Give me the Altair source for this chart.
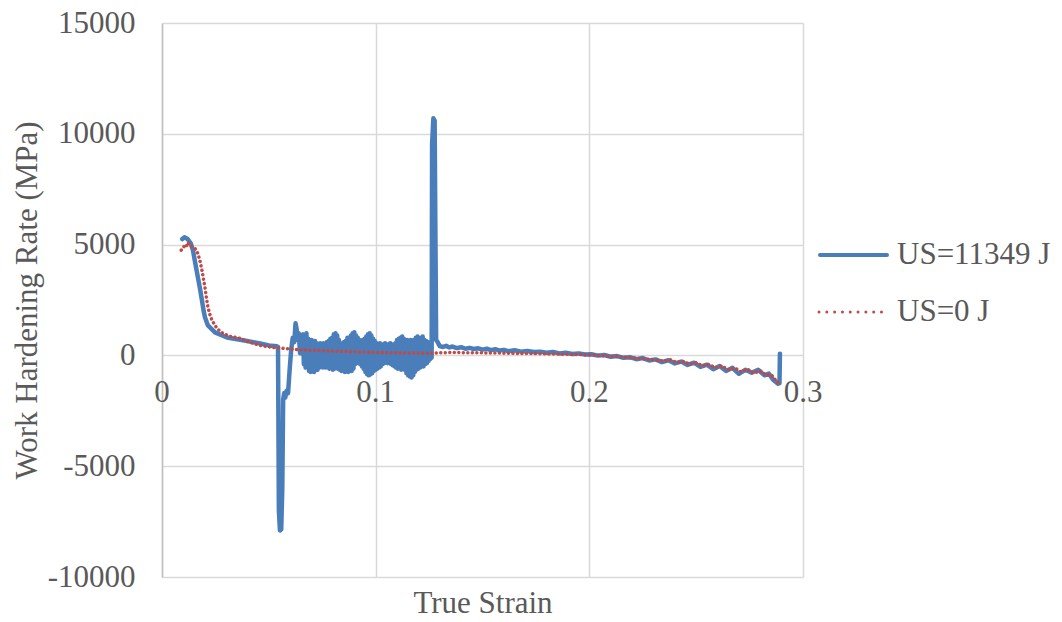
import altair as alt
import pandas as pd

# ---- data ----
series_names = ["US=11349 J", "US=0 J"]

blue_strain = [
    0.0095, 0.0105, 0.0120, 0.0135, 0.0145, 0.0155, 0.0168, 0.0178, 0.0187, 0.0195,
    0.0201, 0.0215, 0.0248, 0.0304, 0.0379, 0.0459, 0.0500, 0.0538,
    0.0543, 0.0547, 0.0552, 0.0558, 0.0563, 0.0567, 0.0572, 0.0577, 0.0583, 0.0590,
    0.0597, 0.0605, 0.0612, 0.0619, 0.0625, 0.0630, 0.0635, 0.0640, 0.0646, 0.0652,
    0.0660, 0.0664, 0.0668, 0.0672, 0.0676, 0.0680, 0.0684, 0.0688, 0.0692, 0.0696,
    0.0700, 0.0704, 0.0708, 0.0712, 0.0716, 0.0720, 0.0724, 0.0728, 0.0732, 0.0736,
    0.0740, 0.0744, 0.0748, 0.0752, 0.0756, 0.0760, 0.0764, 0.0768, 0.0772, 0.0776,
    0.0780, 0.0784, 0.0788, 0.0792, 0.0796, 0.0800, 0.0804, 0.0808, 0.0812, 0.0816,
    0.0820, 0.0824, 0.0828, 0.0832, 0.0836, 0.0840, 0.0844, 0.0848, 0.0852, 0.0856,
    0.0860, 0.0864, 0.0868, 0.0872, 0.0876, 0.0880, 0.0884, 0.0888, 0.0892, 0.0896,
    0.0900, 0.0904, 0.0908, 0.0912, 0.0916, 0.0920, 0.0924, 0.0928, 0.0932, 0.0936,
    0.0940, 0.0944, 0.0948, 0.0952, 0.0956, 0.0960, 0.0964, 0.0968, 0.0972, 0.0976,
    0.0980, 0.0984, 0.0988, 0.0992, 0.0996, 0.1000, 0.1004, 0.1008, 0.1012, 0.1016,
    0.1020, 0.1024, 0.1028, 0.1032, 0.1036, 0.1040, 0.1044, 0.1048, 0.1052, 0.1056,
    0.1060, 0.1064, 0.1068, 0.1072, 0.1076, 0.1080, 0.1084, 0.1088, 0.1092, 0.1096,
    0.1100, 0.1104, 0.1108, 0.1112, 0.1116, 0.1120, 0.1124, 0.1128, 0.1132, 0.1136,
    0.1140, 0.1144, 0.1148, 0.1152, 0.1156, 0.1160, 0.1164, 0.1168, 0.1172, 0.1176,
    0.1180, 0.1184, 0.1188, 0.1192, 0.1196, 0.1200, 0.1204, 0.1208, 0.1212, 0.1216,
    0.1220, 0.1224, 0.1228, 0.1232, 0.1236, 0.1240, 0.1244, 0.1248, 0.1252, 0.1256,
    0.1262, 0.1264, 0.1270, 0.1276, 0.1280, 0.1283,
    0.1290, 0.1300, 0.1315, 0.1330, 0.1345, 0.1360, 0.1380, 0.1400, 0.1420, 0.1440,
    0.1460, 0.1480, 0.1500, 0.1520, 0.1540, 0.1560, 0.1580, 0.1600, 0.1620, 0.1650,
    0.1680, 0.1710, 0.1740, 0.1770, 0.1800, 0.1830, 0.1860, 0.1890, 0.1920, 0.1950,
    0.1980, 0.2010, 0.2040, 0.2070, 0.2100, 0.2130, 0.2160, 0.2190, 0.2220, 0.2250,
    0.2280, 0.2310, 0.2340, 0.2370, 0.2400, 0.2430, 0.2460, 0.2490, 0.2520, 0.2550,
    0.2580, 0.2610, 0.2640, 0.2670, 0.2700, 0.2730, 0.2760, 0.2790, 0.2820, 0.2840,
    0.2860, 0.2883, 0.2890, 0.2892,
]
blue_rate = [
    5250, 5330, 5250, 5050, 4740, 4200, 3520, 3000, 2480, 2000,
    1720, 1350, 1040, 810, 680, 540, 450, 410,
    380, -7000, -7900, -7850, -6000, -2000, -1700, -1900, -1600, -1700,
    -700, 300, 800, 600, 1450, 1200, 700, 1000, 100, 600,
    950, -400, 800, -550, 1000, -500, 750, -700, 650, -750,
    700, -650, 600, -750, 650, -600, 550, -650, 500, -550,
    550, -500, 450, -550, 550, -450, 500, -550, 600, -500,
    650, -600, 750, -550, 800, -650, 950, -600, 1000, -500,
    900, -600, 700, -650, 550, -700, 500, -650, 600, -750,
    650, -700, 800, -750, 700, -650, 900, -700, 1000, -600,
    1050, -400, 900, -350, 800, -300, 700, -400, 650, -500,
    700, -600, 750, -750, 850, -850, 950, -900, 1000, -850,
    900, -800, 750, -700, 650, -650, 550, -600, 500, -550,
    550, -500, 500, -400, 450, -350, 550, -300, 500, -350,
    450, -300, 550, -400, 500, -450, 450, -500, 550, -550,
    700, -600, 750, -550, 800, -650, 850, -600, 750, -650,
    650, -800, 700, -900, 600, -950, 700, -1000, 650, -900,
    700, -750, 800, -650, 850, -600, 750, -550, 800, -500,
    850, -500, 700, -400, 650, -350, 600, -250, 550, -150,
    -100, 9500, 10700, 10600, 5000, 700,
    600, 420, 380, 430, 360, 400, 330, 370, 300, 340,
    290, 320, 260, 300, 240, 280, 220, 250, 190, 230,
    170, 200, 150, 170, 120, 150, 90, 120, 60, 90,
    40, 50, -10, 20, -60, -30, -110, -80, -170, -120,
    -230, -180, -300, -220, -360, -280, -430, -330, -520, -420,
    -620, -480, -700, -560, -830, -650, -780, -650, -900, -820,
    -1100, -1280, -1250, 80,
]

red_strain = [
    0.0090, 0.0098, 0.0105, 0.0113, 0.0122, 0.0130, 0.0140, 0.0154, 0.0168, 0.0178,
    0.0187, 0.0194, 0.0201, 0.0208, 0.0215, 0.0224, 0.0234, 0.0257, 0.0285, 0.0318,
    0.0365, 0.0412, 0.0459, 0.0519, 0.0566, 0.0650, 0.0750, 0.0850, 0.0950, 0.1050,
    0.1150, 0.1250, 0.1350, 0.1450, 0.1550, 0.1650, 0.1750, 0.1850, 0.1950, 0.2050,
    0.2150, 0.2250, 0.2300, 0.2350, 0.2380, 0.2410, 0.2440, 0.2470, 0.2500, 0.2530,
    0.2560, 0.2590, 0.2620, 0.2650, 0.2680, 0.2710, 0.2740, 0.2770, 0.2800, 0.2830,
    0.2850, 0.2870, 0.2885,
]
red_rate = [
    4750, 4830, 4950, 4900, 5100, 4950, 4900, 4830, 4600, 4250,
    3840, 3450, 3070, 2600, 2170, 1850, 1580, 1220, 990, 860,
    770, 590, 450, 360, 320, 250, 210, 180, 150, 120,
    110, 100, 130, 120, 110, 90, 80, 60, 40, 0,
    -70, -150, -200, -260, -200, -330, -270, -400, -330, -480,
    -400, -570, -470, -650, -560, -740, -620, -800, -700, -900,
    -850, -1100, -1250,
]

x_ticks = [0, 0.1, 0.2, 0.3]
x_tick_labels = ["0", "0.1", "0.2", "0.3"]
y_ticks = [-10000, -5000, 0, 5000, 10000, 15000]

# ---- styling ----
FONT = "Liberation Serif"
TXT = "#595959"
GRID = "#d9d9d9"
BLUE = "#4A7EBB"
RED = "#BE4B48"
FS = 31

blue_df = pd.DataFrame({"strain": blue_strain, "rate": blue_rate, "series": series_names[0]})
red_df = pd.DataFrame({"strain": red_strain, "rate": red_rate, "series": series_names[1]})
xlab_df = pd.DataFrame({"strain": x_ticks, "label": x_tick_labels})

x_scale = alt.Scale(domain=[0, 0.3], nice=False, zero=False)
y_scale = alt.Scale(domain=[-10000, 15000], nice=False)

x_enc = alt.X(
    "strain:Q", scale=x_scale,
    axis=alt.Axis(values=x_ticks, grid=True, gridColor=GRID, gridWidth=1.5,
                  labels=False, ticks=False, domain=False,
                  title="True Strain", titleFont=FONT, titleFontSize=FS,
                  titleFontWeight="normal", titleColor=TXT, titlePadding=11),
)
y_enc = alt.Y(
    "rate:Q", scale=y_scale,
    axis=alt.Axis(values=y_ticks, grid=True, gridColor=GRID, gridWidth=1.5,
                  ticks=False, domain=True, domainColor="#bfbfbf", domainWidth=1.5,
                  labelExpr="'' + datum.value",
                  labelFont=FONT, labelFontSize=FS, labelColor=TXT, labelPadding=27,
                  title="Work Hardening Rate (MPa)", titleFont=FONT, titleFontSize=FS,
                  titleFontWeight="normal", titleColor=TXT,
                  titleX=-126, titleY=277, titleBaseline="alphabetic", titleAlign="center"),
)

blue_line = alt.Chart(blue_df).mark_line(
    color=BLUE, strokeWidth=4.5, strokeJoin="round", strokeCap="round"
).encode(x=x_enc, y=y_enc)

red_line = alt.Chart(red_df).mark_line(
    color=RED, strokeWidth=3.5, strokeDash=[0.01, 4.5], strokeCap="round"
).encode(x="strain:Q", y="rate:Q")

x_labels = alt.Chart(xlab_df).mark_text(
    font=FONT, fontSize=FS, color=TXT, align="center", baseline="middle", dy=38
).encode(x="strain:Q", y=alt.datum(0), text="label:N")

# manual legend (Excel style)
leg_blue_line = alt.Chart(pd.DataFrame({"label": [series_names[0]]})).mark_rule(
    color=BLUE, strokeWidth=4, strokeCap="round"
).encode(x=alt.value(658), x2=alt.value(725), y=alt.value(232))
leg_blue_text = alt.Chart(pd.DataFrame({"label": [series_names[0]]})).mark_text(
    font=FONT, fontSize=FS, color=TXT, align="left", baseline="middle"
).encode(x=alt.value(735), y=alt.value(232), text="label:N")
leg_red_line = alt.Chart(pd.DataFrame({"label": [series_names[1]]})).mark_rule(
    color=RED, strokeWidth=3, strokeDash=[0.01, 7.8], strokeCap="round"
).encode(x=alt.value(657), x2=alt.value(726), y=alt.value(289))
leg_red_text = alt.Chart(pd.DataFrame({"label": [series_names[1]]})).mark_text(
    font=FONT, fontSize=FS, color=TXT, align="left", baseline="middle"
).encode(x=alt.value(735), y=alt.value(289), text="label:N")

chart = alt.layer(
    blue_line, red_line, x_labels,
    leg_blue_line, leg_blue_text, leg_red_line, leg_red_text,
).properties(
    width=641, height=554,
    padding={"left": 162, "top": 23, "right": 259, "bottom": 45},
    autosize=alt.AutoSizeParams(type="none"),
    background="white",
).configure_view(stroke=None)

chart.save("out.html", embed_options={"renderer": "svg", "actions": False})
